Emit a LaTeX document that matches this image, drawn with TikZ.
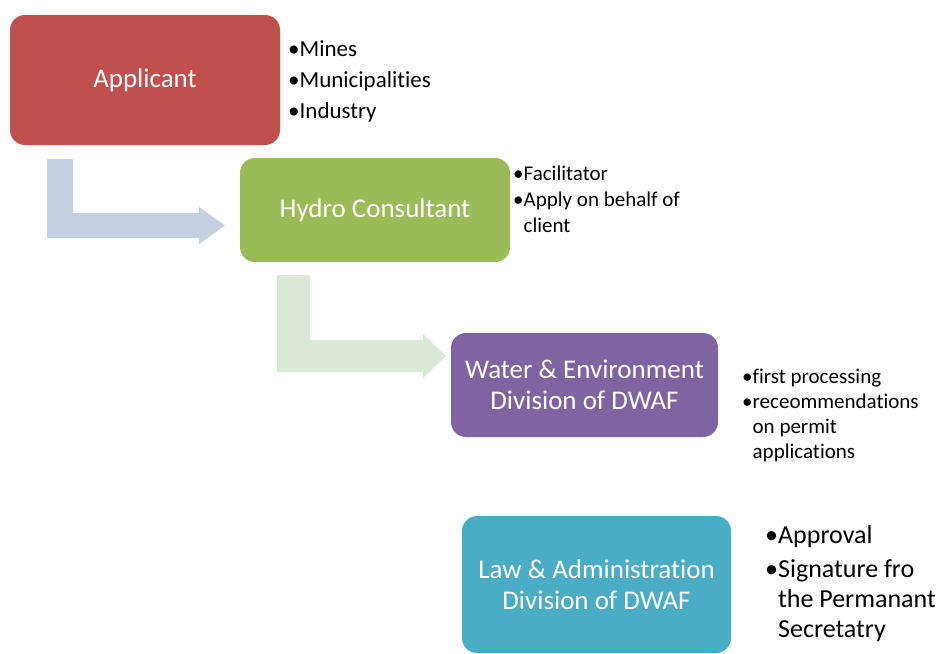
\documentclass[tikz,border=0pt]{standalone}
\usepackage{fontspec}
\setmainfont{Carlito}[Ligatures=NoCommon]
\definecolor{cred}{HTML}{C0504D}
\definecolor{cgreen}{HTML}{9BBB59}
\definecolor{cpurple}{HTML}{8064A2}
\definecolor{ccyan}{HTML}{4BACC6}
\definecolor{arrblue}{HTML}{C4CFE2}
\definecolor{arrgreen}{HTML}{DAE9D6}
\newcommand\ind{\phantom{•}}
\tikzset{
  box/.style={rounded corners=15pt, inner sep=0pt, text=white, align=center,
    font=\fontsize{27}{31}\selectfont},
  blist/.style={anchor=west, inner sep=0pt, align=left, text=black}
}
\begin{document}
\begin{tikzpicture}[x=1pt,y=-1pt]
\useasboundingbox[fill=white] (0,0) rectangle (942,653);
% block arrows
\fill[arrblue] (47,159) -- (73,159) -- (73,213) -- (199,213) -- (199,207) -- (225,225.5)
  -- (199,244) -- (199,238) -- (47,238) -- cycle;
\fill[arrgreen] (277,275) -- (310,275) -- (310,340) -- (423,340) -- (423,334) -- (446,356)
  -- (423,378) -- (423,372) -- (277,372) -- cycle;
% boxes
\node[box, fill=cred, minimum width=270pt, minimum height=130pt] (app) at (145,80) {Applicant};
\node[box, fill=cgreen, minimum width=270pt, minimum height=104pt] (hyd) at (375,210) {Hydro Consultant};
\node[box, fill=cpurple, minimum width=267pt, minimum height=104pt] (wat) at (584.5,385) {Water \& Environment\\Division of DWAF};
\node[box, fill=ccyan, minimum width=269pt, minimum height=137pt] (law) at (596.5,584.5) {Law \& Administration\\Division of DWAF};
% bullet lists
\node[blist, font=\fontsize{23}{31}\selectfont] (appl) at (288,81)
  {•Mines\\•Municipalities\\•Industry};
\node[blist, font=\fontsize{21}{26}\selectfont] (hydl) at (513,199)
  {•Facilitator\\•Apply on behalf of\\\ind client};
\node[blist, font=\fontsize{21}{25}\selectfont] (watl) at (742,415)
  {•first processing\\•receommendations\\\ind on permit\\\ind applications};
\node[blist, font=\fontsize{26}{30}\selectfont] (lawl) at (765,584)
  {•Approval\\[4pt]•Signature fro\\\ind the Permanant\\\ind Secretatry};
\end{tikzpicture}
\end{document}
